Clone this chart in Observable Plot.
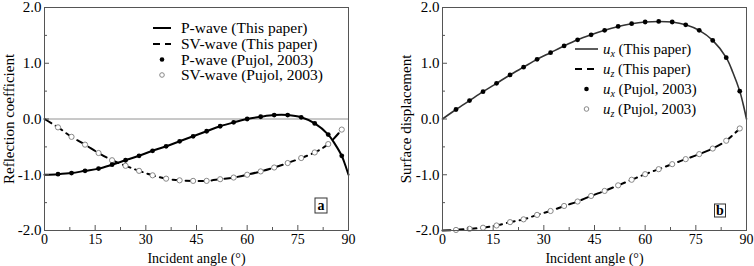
<!DOCTYPE html>
<html><head><meta charset="utf-8">
<script src="https://cdn.jsdelivr.net/npm/d3@7"></script>
<script src="https://cdn.jsdelivr.net/npm/@observablehq/plot@0.6"></script>
<style>
body{margin:0;background:#fff;}
#wrap{position:relative;width:754px;height:266px;overflow:hidden;}
#wrap svg{position:absolute;top:0;}
</style></head><body><div id="wrap"></div>
<script>
// ---- data ----
const pointAngles = [4,8,12,16,20,24,28,32,36,40,44,48,52,56,60,64,68,72,76,80,84,88];
const pPujol  = [-0.99,-0.97,-0.93,-0.89,-0.82,-0.74,-0.66,-0.57,-0.49,-0.40,-0.31,-0.22,-0.13,-0.06,0.00,0.04,0.07,0.07,0.03,-0.08,-0.28,-0.66];
const svPujol = [-0.15,-0.32,-0.46,-0.61,-0.74,-0.84,-0.93,-1.01,-1.07,-1.10,-1.11,-1.11,-1.08,-1.05,-1.00,-0.94,-0.87,-0.79,-0.70,-0.60,-0.45,-0.19];
const uxPujol = [0.17,0.33,0.49,0.64,0.79,0.93,1.07,1.19,1.31,1.42,1.51,1.59,1.66,1.71,1.74,1.75,1.74,1.69,1.59,1.41,1.10,0.50];
const uzPujol = [-1.99,-1.97,-1.95,-1.91,-1.85,-1.80,-1.72,-1.65,-1.56,-1.48,-1.38,-1.29,-1.19,-1.09,-0.99,-0.90,-0.81,-0.72,-0.63,-0.53,-0.39,-0.17];

const pLineAngles = [0,4,8,12,16,20,24,28,32,36,40,44,48,52,56,60,64,68,72,76,80,84,86,88,89,90];
const pLine  = [-1.00,-0.99,-0.97,-0.93,-0.89,-0.82,-0.74,-0.66,-0.57,-0.49,-0.40,-0.31,-0.22,-0.13,-0.06,0.00,0.04,0.07,0.07,0.03,-0.08,-0.28,-0.45,-0.66,-0.82,-1.00];
const svLineAngles = [0,4,8,12,16,20,24,28,32,36,40,44,48,52,56,60,64,68,72,76,80,84,88];
const svLine = [0.00,-0.15,-0.32,-0.46,-0.61,-0.74,-0.84,-0.93,-1.01,-1.07,-1.10,-1.11,-1.11,-1.08,-1.05,-1.00,-0.94,-0.87,-0.79,-0.70,-0.60,-0.45,-0.19];
const uxLineAngles = [0,4,8,12,16,20,24,28,32,36,40,44,48,52,56,60,64,68,72,76,80,84,86,88,89,90];
const uxLine = [0.00,0.17,0.33,0.49,0.64,0.79,0.93,1.07,1.19,1.31,1.42,1.51,1.59,1.66,1.71,1.74,1.75,1.74,1.69,1.59,1.41,1.10,0.83,0.50,0.27,0.00];
const uzLineAngles = [0,4,8,12,16,20,24,28,32,36,40,44,48,52,56,60,64,68,72,76,80,84,88];
const uzLine = [-2.00,-1.99,-1.97,-1.95,-1.91,-1.85,-1.80,-1.72,-1.65,-1.56,-1.48,-1.38,-1.29,-1.19,-1.09,-0.99,-0.90,-0.81,-0.72,-0.63,-0.53,-0.39,-0.17];

const xTicks = [0,15,30,45,60,75,90];
const xMinor = [7.5,22.5,37.5,52.5,67.5,82.5];
const yTicks = [-2,-1,0,1,2];
const yMinor = [-1.5,-0.5,0.5,1.5];

const xLabel = "Incident angle (°)";
const leftYLabel = "Reflection coefficient";
const rightYLabel = "Surface displacement";

const pair = (xs, ys) => xs.map((x, i) => ({x, y: ys[i]}));

const W = 377, H = 266, MT = 7, MB = 36;
const frameColor = "#555";
const FONT = "Liberation Serif, Times New Roman, serif";

function panel({ml, mr, yLabel, yLabelOffset, solid, dashed, filled, open, zero, solidWidth, solidColor}) {
  const fw = W - ml - mr, fh = H - MT - MB;
  const marks = [
    zero ? Plot.ruleY([0], {stroke: "#777", strokeWidth: 0.8}) : null,
    Plot.line(dashed, {x: "x", y: "y", curve: "catmull-rom", stroke: "#000", strokeWidth: 2, strokeDasharray: "8,5"}),
    Plot.line(solid, {x: "x", y: "y", curve: "catmull-rom", stroke: solidColor, strokeWidth: solidWidth}),
    Plot.dot(open, {x: "x", y: "y", r: 2.6, stroke: "#888", fill: "#fff", strokeWidth: 1}),
    Plot.dot(filled, {x: "x", y: "y", r: 2.4, fill: "#000", stroke: "none"}),
    Plot.ruleX(xTicks, {x: d => d, insetTop: fh - 5, stroke: frameColor}),
    Plot.ruleX(xMinor, {x: d => d, insetTop: fh - 3, stroke: frameColor}),
    Plot.ruleY(yTicks, {y: d => d, insetRight: fw - 5, stroke: frameColor}),
    Plot.ruleY(yMinor, {y: d => d, insetRight: fw - 3, stroke: frameColor}),
    Plot.frame({stroke: frameColor, strokeWidth: 1}),
    Plot.axisX(xTicks, {tickSize: 0, tickPadding: 4, tickFormat: d => String(d), fontSize: 14,
      label: xLabel, labelAnchor: "center", labelArrow: "none", labelOffset: 32}),
    Plot.axisY(yTicks, {tickSize: 0, tickPadding: 3, tickFormat: d => d.toFixed(1), fontSize: 15,
      label: yLabel, labelAnchor: "center", labelArrow: "none", labelOffset: yLabelOffset})
  ].filter(Boolean);
  return Plot.plot({
    width: W, height: H,
    marginLeft: ml, marginRight: mr, marginTop: MT, marginBottom: MB,
    x: {domain: [0, 90]},
    y: {domain: [-2, 2]},
    style: {fontFamily: FONT, fontSize: "14px", color: "#000", background: "#fff", overflow: "visible"},
    marks
  });
}

const left = panel({
  ml: 44, mr: 29, yLabel: leftYLabel, yLabelOffset: 41, zero: true,
  solid: pair(pLineAngles, pLine), dashed: pair(svLineAngles, svLine),
  filled: pair(pointAngles, pPujol), open: pair(pointAngles, svPujol),
  solidWidth: 2, solidColor: "#000"
});
const right = panel({
  ml: 65, mr: 8, yLabel: rightYLabel, yLabelOffset: 42, zero: false,
  solid: pair(uxLineAngles, uxLine), dashed: pair(uzLineAngles, uzLine),
  filled: pair(pointAngles, uxPujol), open: pair(pointAngles, uzPujol),
  solidWidth: 1.6, solidColor: "#333"
});

const wrap = document.getElementById("wrap");
left.style.left = "0px";
right.style.left = "377px";
wrap.appendChild(left);
wrap.appendChild(right);

function legend(svg, {rows, lx1, lx2, tx, size, items}) {
  const g = d3.select(svg).append("g").attr("font-family", FONT).attr("font-size", size)
    .attr("fill", "#000").attr("text-anchor", "start");
  items.forEach((it, i) => {
    const y = rows[i];
    if (it.kind === "solid") g.append("line").attr("x1", lx1).attr("x2", lx2).attr("y1", y).attr("y2", y).attr("stroke", it.color).attr("stroke-width", it.width);
    if (it.kind === "dash") g.append("line").attr("x1", lx1).attr("x2", lx2).attr("y1", y).attr("y2", y).attr("stroke", "#000").attr("stroke-width", 2).attr("stroke-dasharray", "7,5");
    if (it.kind === "dot") g.append("circle").attr("cx", (lx1 + lx2) / 2).attr("cy", y).attr("r", 2.3).attr("fill", "#000");
    if (it.kind === "open") g.append("circle").attr("cx", (lx1 + lx2) / 2).attr("cy", y).attr("r", 2.3).attr("fill", "#fff").attr("stroke", "#888");
    const t = g.append("text").attr("x", tx).attr("y", y).attr("dy", "0.35em").attr("text-anchor", "start");
    if (it.sub) {
      t.append("tspan").attr("font-style", "italic").text("u");
      t.append("tspan").attr("font-style", "italic").attr("font-size", 10).attr("dy", 3).text(it.sub);
      t.append("tspan").attr("dy", -3).text(" " + it.text);
    } else {
      t.text(it.text);
    }
  });
}

legend(left, {rows: [28, 44, 59.5, 75], lx1: 153, lx2: 171, tx: 181, size: 15.5, items: [
  {kind: "solid", color: "#000", width: 2, text: "P-wave (This paper)"},
  {kind: "dash", text: "SV-wave (This paper)"},
  {kind: "dot", text: "P-wave (Pujol, 2003)"},
  {kind: "open", text: "SV-wave (Pujol, 2003)"}
]});
legend(right, {rows: [49, 69, 89, 109], lx1: 198, lx2: 221, tx: 226, size: 14.8, items: [
  {kind: "solid", color: "#333", width: 1.6, sub: "x", text: "(This paper)"},
  {kind: "dash", sub: "z", text: "(This paper)"},
  {kind: "dot", sub: "x", text: "(Pujol, 2003)"},
  {kind: "open", sub: "z", text: "(Pujol, 2003)"}
]});

function tag(svg, cx, cy, w, h, label) {
  const g = d3.select(svg).append("g");
  g.append("rect").attr("x", cx - w / 2).attr("y", cy - h / 2).attr("width", w).attr("height", h)
    .attr("fill", "#fff").attr("stroke", "#333").attr("stroke-width", 1);
  g.append("text").attr("x", cx).attr("y", cy).attr("dy", "0.35em").attr("text-anchor", "middle")
    .attr("font-family", FONT).attr("font-weight", "bold").attr("font-size", 14).text(label);
}
tag(left, 321, 205.5, 12, 15, "a");
tag(right, 343, 210.5, 11, 13, "b");
</script></body></html>
